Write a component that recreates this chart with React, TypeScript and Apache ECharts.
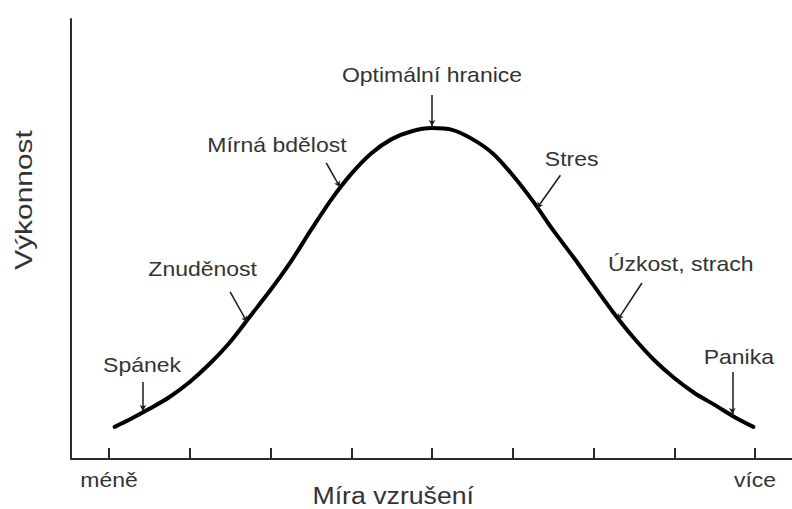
import React, { useEffect, useRef } from "react";
import * as echarts from "echarts";

// Curve (x: arousal in tick units 0..8, y: performance 0..100)
const curveX = [0.07, 0.25, 0.5, 0.75, 1.0, 1.25, 1.5, 1.75, 2.0, 2.25, 2.5, 2.75, 3.0, 3.25, 3.5, 3.75, 4.0,
  4.25, 4.5, 4.75, 5.0, 5.25, 5.5, 5.75, 6.0, 6.25, 6.5, 6.75, 7.0, 7.25, 7.5, 7.75, 7.98];
const curveY = [7.3, 8.9, 11.4, 14.1, 17.5, 21.7, 26.6, 32.5, 38.4, 44.8, 52.0, 58.9, 64.8, 69.5, 72.7, 74.5, 75.2,
  74.8, 72.7, 69.5, 64.5, 58.6, 52.0, 45.9, 39.5, 33.2, 27.5, 22.5, 18.4, 15.0, 12.3, 9.5, 7.3];

const xTicks = [0, 1, 2, 3, 4, 5, 6, 7, 8];
const endLabels = ["méně", "více"];
const endLabelValues = [0, 8];

const xTitle = "Míra vzrušení";
const yTitle = "Výkonnost";

const annLabels = ["Optimální hranice", "Mírná bdělost", "Stres", "Úzkost, strach", "Znuděnost", "Spánek", "Panika"];
const annTextPos = [[4.0, 87.3], [2.08, 71.4], [5.73, 68.2], [7.08, 44.3], [1.16, 43.2], [0.41, 21.4], [7.8, 23.2]];
const annArrowFrom = [[4.0, 82.7], [2.69, 67.3], [5.59, 64.5], [6.6, 40.0], [1.5, 38.0], [0.42, 17.5], [7.72, 19.8]];
const annArrowTo = [[4.0, 75.7], [2.86, 61.8], [5.3, 57.0], [6.3, 31.6], [1.71, 31.1], [0.42, 10.9], [7.72, 10.2]];

const FONT = "Liberation Sans, Arial, sans-serif";
const TEXT_COLOR = "#333";

export default function App() {
  const ref = useRef<HTMLDivElement>(null);
  useEffect(() => {
    if (!ref.current) return;
    const chart = echarts.init(ref.current, null, { renderer: "svg" });
    const gridLeft = 71;
    const gridRight = 0;
    const plotW = 792 - gridLeft - gridRight;
    const tickPx = 80.75;
    const firstTickPx = 109;
    const xMin = (gridLeft - firstTickPx) / tickPx;
    const xMax = xMin + plotW / tickPx;

    chart.setOption({
      animation: false,
      backgroundColor: "#fff",
      grid: { left: gridLeft, right: gridRight, top: 19, bottom: 50, containLabel: false },
      xAxis: {
        type: "value",
        min: xMin,
        max: xMax,
        axisLine: { show: true, onZero: false, lineStyle: { color: "#2b2b2b", width: 2 } },
        axisTick: { show: true, inside: true, length: 11, customValues: xTicks, lineStyle: { color: "#2b2b2b", width: 2 } },
        axisLabel: { show: false },
        splitLine: { show: false },
      },
      yAxis: {
        type: "value",
        min: 0,
        max: 100,
        axisLine: { show: true, onZero: false, lineStyle: { color: "#2b2b2b", width: 2 } },
        axisTick: { show: false },
        axisLabel: { show: false },
        splitLine: { show: false },
      },
      series: [
        {
          type: "line",
          data: curveX.map((x, i) => [x, curveY[i]]),
          smooth: 0.3,
          symbol: "none",
          lineStyle: { color: "#000", width: 4, cap: "round" },
          markLine: {
            silent: true,
            symbol: ["none", "arrow"],
            symbolSize: [5, 6],
            label: { show: false },
            lineStyle: { color: "#1a1a1a", width: 1.5, type: "solid" },
            data: annArrowFrom.map((f, i) => [{ coord: f }, { coord: annArrowTo[i] }]),
          },
        },
      ],
    });

    const toPx = (p: number[]) => chart.convertToPixel({ gridIndex: 0 }, p) as number[];
    const axisY = toPx([0, 0])[1];
    const graphics: any[] = [];
    annLabels.forEach((t, i) => {
      const [px, py] = toPx(annTextPos[i]);
      graphics.push({
        type: "text",
        x: px,
        y: py,
        scaleX: 1.15,
        style: { text: t, fontSize: 20, fontFamily: FONT, fill: TEXT_COLOR, align: "center", verticalAlign: "middle" },
      });
    });
    endLabels.forEach((t, i) => {
      const [px] = toPx([endLabelValues[i], 0]);
      graphics.push({
        type: "text",
        x: px,
        y: axisY + 21,
        scaleX: 1.15,
        style: { text: t, fontSize: 20, fontFamily: FONT, fill: TEXT_COLOR, align: "center", verticalAlign: "middle" },
      });
    });
    const [tx] = toPx([3.52, 0]);
    graphics.push({
      type: "text",
      x: tx,
      y: axisY + 37,
      scaleX: 1.16,
      style: { text: xTitle, fontSize: 23, fontFamily: FONT, fill: TEXT_COLOR, align: "center", verticalAlign: "middle" },
    });
    graphics.push({
      type: "text",
      x: 24,
      y: 200,
      rotation: Math.PI / 2,
      scaleX: 1.3,
      style: { text: yTitle, fontSize: 23, fontFamily: FONT, fill: TEXT_COLOR, align: "center", verticalAlign: "middle" },
    });
    chart.setOption({ graphic: graphics });

    return () => chart.dispose();
  }, []);
  return <div ref={ref} style={{ position: "fixed", left: 0, top: 0, width: 792, height: 509 }} />;
}
